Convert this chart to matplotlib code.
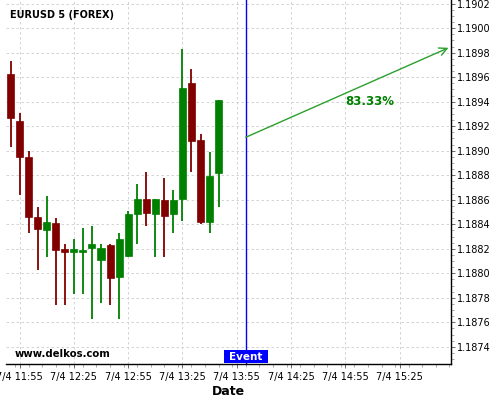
import matplotlib
matplotlib.use("Agg")
import matplotlib.pyplot as plt
import matplotlib.dates as mdates
from matplotlib.ticker import MultipleLocator
from matplotlib.patches import Rectangle
import pandas as pd

# ---- data ----
times = ["11:50", "11:55", "12:00", "12:05", "12:10", "12:15", "12:20", "12:25",
         "12:30", "12:35", "12:40", "12:45", "12:50", "12:55", "13:00", "13:05",
         "13:10", "13:15", "13:20", "13:25", "13:30", "13:35", "13:40", "13:45"]
opens  = [1.18963, 1.18924, 1.18895, 1.18846, 1.18835, 1.18841, 1.18820, 1.18817,
          1.18817, 1.18821, 1.18811, 1.18823, 1.18797, 1.18814, 1.18848, 1.18861,
          1.18848, 1.18860, 1.18848, 1.18861, 1.18955, 1.18909, 1.18842, 1.18882]
highs  = [1.18973, 1.18931, 1.18900, 1.18854, 1.18863, 1.18845, 1.18824, 1.18828,
          1.18837, 1.18839, 1.18824, 1.18824, 1.18833, 1.18851, 1.18873, 1.18883,
          1.18861, 1.18878, 1.18868, 1.18983, 1.18967, 1.18914, 1.18899, 1.18941]
lows   = [1.18903, 1.18864, 1.18833, 1.18803, 1.18813, 1.18774, 1.18774, 1.18783,
          1.18783, 1.18763, 1.18776, 1.18774, 1.18763, 1.18813, 1.18824, 1.18839,
          1.18813, 1.18813, 1.18833, 1.18843, 1.18883, 1.18840, 1.18833, 1.18854]
closes = [1.18927, 1.18895, 1.18846, 1.18836, 1.18842, 1.18819, 1.18817, 1.18820,
          1.18819, 1.18824, 1.18821, 1.18796, 1.18828, 1.18848, 1.18861, 1.18849,
          1.18861, 1.18847, 1.18860, 1.18951, 1.18908, 1.18842, 1.18879, 1.18941]

event_time = "14:00"
arrow_start = ("14:00", 1.18911)
arrow_end = ("15:52", 1.18984)
pct_label = "83.33%"
pct_pos = ("14:55", 1.18940)

xtick_times = ["11:55", "12:25", "12:55", "13:25", "13:55", "14:25", "14:55", "15:25"]
xtick_labels = ["7/4 11:55", "7/4 12:25", "7/4 12:55", "7/4 13:25",
                "7/4 13:55", "7/4 14:25", "7/4 14:55", "7/4 15:25"]
ytick_values = [1.1874, 1.1876, 1.1878, 1.1880, 1.1882, 1.1884, 1.1886, 1.1888,
                1.1890, 1.1892, 1.1894, 1.1896, 1.1898, 1.1900, 1.1902]

day = "2021-07-04 "
def t(s):
    return mdates.date2num(pd.Timestamp(day + s))

RED = "#800000"
GREEN = "#008000"

fig = plt.figure(figsize=(5, 4), dpi=100)
ax = fig.add_axes([0.012, 0.09, 0.890, 0.91])

minute = 1.0 / (24 * 60)
body_w = 3.9 * minute

for tm, o, h, l, c in zip(times, opens, highs, lows, closes):
    x = t(tm)
    col = GREEN if c >= o else RED
    ax.vlines(x, l, h, color=col, linewidth=1.3, zorder=3)
    bottom = min(o, c)
    height = max(abs(c - o), 0.000004)
    ax.bar(x, height, width=body_w, bottom=bottom, color=col, edgecolor=col,
           linewidth=0.5, zorder=4)

# event line and label
ex = t(event_time)
ax.axvline(ex, color="#0000ff", linewidth=1.0, zorder=5)
trans = ax.get_xaxis_transform()
ax.add_patch(Rectangle((ex - 12.3 * minute, 0.002), 24.4 * minute, 0.036,
                       transform=trans, facecolor="#0000ff", edgecolor="none",
                       zorder=6, clip_on=False))
ax.text(ex, 0.020, "Event", transform=trans, ha="center", va="center",
        color="white", fontsize=7.5, fontweight="bold", zorder=7)

# arrow
ax.annotate("", xy=(t(arrow_end[0]), arrow_end[1]),
            xytext=(t(arrow_start[0]), arrow_start[1]),
            arrowprops=dict(arrowstyle="->", color="#2ca02c", linewidth=1.0,
                            mutation_scale=14, shrinkA=0, shrinkB=0), zorder=6)
ax.text(t(pct_pos[0]), pct_pos[1], pct_label, color=GREEN, fontsize=8.5,
        fontweight="bold", ha="left", va="center")

# axes settings
ax.set_xlim(t("11:47:30"), t("15:53:24"))
ax.set_ylim(1.18726, 1.19023)

ax.set_xticks([t(s) for s in xtick_times])
ax.set_xticklabels(xtick_labels, fontsize=7)
ax.xaxis.set_minor_locator(MultipleLocator(7.5 * minute))
ax.set_yticks(ytick_values)
ax.set_yticklabels([f"{v:.4f}" for v in ytick_values], fontsize=7)
ax.yaxis.set_minor_locator(MultipleLocator(0.00005))
ax.yaxis.tick_right()
ax.yaxis.set_label_position("right")
ax.tick_params(axis="both", which="major", length=3, width=0.6, pad=1, color="#555555")
ax.tick_params(axis="x", which="major", pad=3)
ax.tick_params(axis="both", which="minor", length=2, width=0.5, color="#888888")

ax.grid(True, which="major", linestyle=(0, (3, 3)), color="#cccccc", linewidth=0.6)
ax.set_axisbelow(True)

for side in ["top", "left"]:
    ax.spines[side].set_visible(False)
ax.spines["bottom"].set_linewidth(1.0)
ax.spines["right"].set_linewidth(1.0)

ax.set_xlabel("Date", fontsize=9, fontweight="bold", labelpad=2)

ax.text(0.01, 0.958, "EURUSD 5 (FOREX)", transform=ax.transAxes, fontsize=7,
        fontweight="bold", ha="left", va="center")
ax.text(0.02, 0.028, "www.delkos.com", transform=ax.transAxes, fontsize=7.3,
        fontweight="bold", ha="left", va="center")

fig.savefig("out.png", dpi=100)
